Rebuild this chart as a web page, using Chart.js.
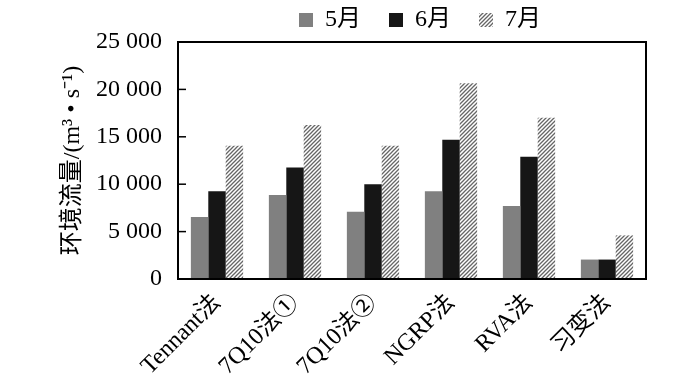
<!DOCTYPE html>
<html>
<head>
<meta charset="utf-8">
<script src="https://cdn.jsdelivr.net/npm/chart.js@4"></script>
<style>
  html, body { margin: 0; padding: 0; background: #fff; }
  #wrap { width: 700px; height: 385px; }
</style>
</head>
<body>
<div id="wrap"><canvas id="flow-chart" width="700" height="385"></canvas></div>
<script>
const methods = ['Tennant法', '7Q10法①', '7Q10法②', 'NGRP法', 'RVA法', '习变法'];
const may = [6550, 8850, 7100, 9250, 7700, 2050];
const june = [9250, 11750, 10000, 14700, 12900, 2050];
const july = [14050, 16250, 14050, 20650, 17000, 4600];
const yTicks = [0, 5000, 10000, 15000, 20000, 25000];

const fontFamily = "'Liberation Serif', 'Times New Roman', 'Noto Sans CJK SC', serif";
Chart.defaults.font.family = fontFamily;
Chart.defaults.color = '#000';

// diagonal hatch for the July bars
function hatch() {
    const c = document.createElement('canvas');
    c.width = 4; c.height = 4;
    const g = c.getContext('2d');
    g.fillStyle = '#ffffff';
    g.fillRect(0, 0, 4, 4);
    g.strokeStyle = '#666666';
    g.lineWidth = 1.3;
    g.beginPath();
    g.moveTo(0, 4); g.lineTo(4, 0);
    g.moveTo(-1, 1); g.lineTo(1, -1);
    g.moveTo(3, 5); g.lineTo(5, 3);
    g.stroke();
    return g.createPattern(c, 'repeat');
}

// frame round the plot area plus inward y ticks; legend centred over the plot
const framePlugin = {
    id: 'frame',
    afterLayout(chart) {
        const a = chart.chartArea;
        chart.legend.left = a.left + 8;
        chart.legend.right = a.right + 8;
    },
    afterDraw(chart) {
        const ctx = chart.ctx;
        const a = chart.chartArea;
        const y = chart.scales.y;
        ctx.save();
        ctx.strokeStyle = '#000';
        ctx.lineWidth = 2;
        ctx.strokeRect(a.left, a.top, a.right - a.left, a.bottom - a.top);
        ctx.lineWidth = 1.5;
        yTicks.forEach(v => {
            const py = y.getPixelForValue(v);
            ctx.beginPath();
            ctx.moveTo(a.left, py);
            ctx.lineTo(a.left + 8, py);
            ctx.stroke();
        });
        ctx.restore();
    }
};

const ctx = document.getElementById('flow-chart').getContext('2d');
const flowChart = new Chart(ctx, {
    type: 'bar',
    data: {
        labels: methods,
        datasets: [
            { label: '5月', data: may, backgroundColor: '#808080' },
            { label: '6月', data: june, backgroundColor: '#161616' },
            { label: '7月', data: july, backgroundColor: hatch() }
        ]
    },
    options: {
        responsive: false,
        animation: false,
        layout: { padding: { left: 0, right: 54, top: -20, bottom: 0 } },
        datasets: {
            bar: { barPercentage: 1.0, categoryPercentage: 0.67 }
        },
        plugins: {
            tooltip: { enabled: false },
            legend: {
                position: 'top',
                labels: {
                    color: '#000',
                    boxWidth: 14,
                    boxHeight: 14,
                    padding: 28,
                    font: { family: fontFamily, size: 24 }
                }
            }
        },
        scales: {
            x: {
                grid: { display: false },
                border: { display: false },
                ticks: {
                    color: '#000',
                    maxRotation: 45,
                    minRotation: 45,
                    padding: 2,
                    font: { family: fontFamily, size: 24 }
                },
                afterFit(scale) { scale.height = 106; }
            },
            y: {
                min: 0,
                max: 25000,
                afterBuildTicks(scale) {
                    scale.ticks = yTicks.map(v => ({ value: v }));
                },
                grid: { display: false },
                border: { display: false },
                ticks: {
                    color: '#000',
                    padding: 8,
                    font: { family: fontFamily, size: 24 },
                    callback: v => String(v).replace(/\B(?=(\d{3})+(?!\d))/g, ' ')
                },
                title: {
                    display: true,
                    text: '环境流量/(m³ • s⁻¹)',
                    color: '#000',
                    padding: { top: 58, bottom: 0 },
                    font: { family: fontFamily, size: 24 }
                },
                afterFit(scale) { scale.width = 178; }
            }
        }
    },
    plugins: [framePlugin]
});
</script>
</body>
</html>
